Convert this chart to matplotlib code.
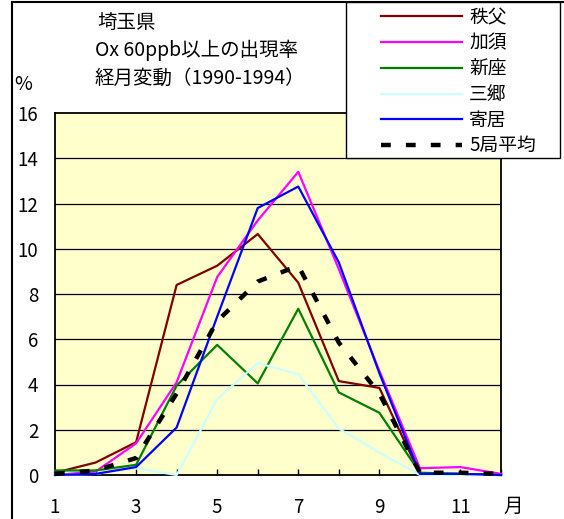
import matplotlib
matplotlib.use("Agg")
import matplotlib.pyplot as plt
from matplotlib.patches import Rectangle
from matplotlib.lines import Line2D

#########################################################
# Data
#########################################################
months = [1, 2, 3, 4, 5, 6, 7, 8, 9, 10, 11, 12]
x_labels = ['1', '', '3', '', '5', '', '7', '', '9', '', '11', '']
y_ticks = [0, 2, 4, 6, 8, 10, 12, 14, 16]

chichibu = [0.1, 0.55, 1.45, 8.4, 9.25, 10.65, 8.5, 4.15, 3.85, 0.05, 0.05, 0.0]
kazo = [0.0, 0.15, 1.4, 4.1, 8.75, 11.25, 13.4, 9.1, 4.6, 0.3, 0.35, 0.05]
niiza = [0.2, 0.2, 0.45, 3.95, 5.75, 4.05, 7.35, 3.65, 2.75, 0.1, 0.05, 0.0]
misato = [0.0, 0.05, 0.3, 0.0, 3.35, 4.95, 4.45, 2.05, 1.0, 0.0, 0.0, 0.0]
yorii = [0.0, 0.05, 0.35, 2.1, 7.0, 11.8, 12.75, 9.4, 4.5, 0.05, 0.05, 0.0]
avg5 = [0.05, 0.2, 0.75, 3.6, 6.8, 8.55, 9.25, 5.85, 3.6, 0.1, 0.1, 0.05]

station_names = ['秩父', '加須', '新座', '三郷', '寄居']
station_colors = ['#800000', '#FF00FF', '#008000', '#CCFFFF', '#0000FF']

plt.rcParams['font.family'] = ['Noto Sans CJK JP', 'DejaVu Sans']

W, H = 564, 519
fig = plt.figure(figsize=(W / 100, H / 100), dpi=100)

# plot area in pixels: x 55..501, y 113..475
ax = fig.add_axes([55 / W, (H - 475) / H, (501 - 55) / W, (475 - 113) / H])
ax.set_facecolor('#FFFFCC')

for vals, name, col in zip([chichibu, kazo, niiza, misato, yorii], station_names, station_colors):
    ax.plot(months, vals, color=col, lw=1.6, label=name, zorder=3, clip_on=False)
ax.plot(months, avg5, color='black', lw=3.2, dashes=(2.2, 3.4), label='5局平均', zorder=4, clip_on=False)

ax.set_xlim(1, 12)
ax.set_ylim(0, 16)
ax.set_xticks(months)
ax.set_xticklabels(x_labels)
ax.set_yticks(y_ticks)
ax.tick_params(axis='x', direction='in', length=4, width=1, pad=16, labelsize=13.5)
ax.tick_params(axis='y', length=0, pad=12, labelsize=13.5)

# horizontal grid lines
for yv in y_ticks[1:-1]:
    ax.axhline(yv, color='black', lw=0.9, zorder=1)

for s in ax.spines.values():
    s.set_color('black')
    s.set_linewidth(1.3)

# outer chart frame (left and top edges)
fig.add_artist(Line2D([12 / W, 12 / W], [0, (H - 2) / H], color='black', lw=1.5))
fig.add_artist(Line2D([12 / W, 1], [(H - 2) / H, (H - 2) / H], color='black', lw=1.5))

# legend box
fig.add_artist(Rectangle((346 / W, (H - 158) / H), (560 - 346) / W, (158 - 2) / H,
                         facecolor='white', edgecolor='black', lw=1.0, zorder=5))
leg = fig.legend(loc='upper left', bbox_to_anchor=(381 / W, (H - 7) / H), frameon=False,
                 borderpad=0, borderaxespad=0, handlelength=4.3, handletextpad=0.4,
                 labelspacing=0.25, fontsize=13.5)
leg.set_zorder(6)

# titles and units
fig.text(97 / W, 1 - 23 / H, '埼玉県', fontsize=14, va='center', ha='left')
fig.text(95 / W, 1 - 50 / H, 'Ox 60ppb以上の出現率', fontsize=14, va='center', ha='left')
fig.text(95 / W, 1 - 78 / H, '経月変動（1990-1994）', fontsize=14, va='center', ha='left')
fig.text(23 / W, 1 - 85 / H, '%', fontsize=14, va='center', ha='center')
fig.text(513 / W, 1 - 506 / H, '月', fontsize=14, va='center', ha='center')

fig.savefig('out.png', dpi=100)
